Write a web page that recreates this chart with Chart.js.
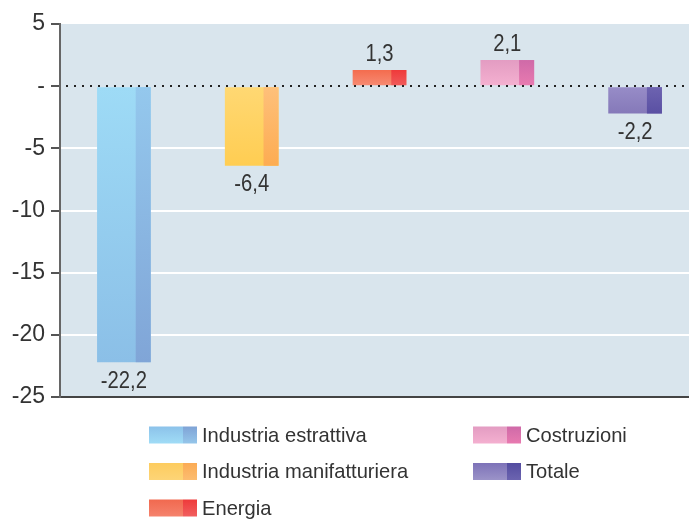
<!DOCTYPE html>
<html>
<head>
<meta charset="utf-8">
<script src="https://cdn.jsdelivr.net/npm/chart.js@4/dist/chart.umd.min.js"></script>
<style>
  html, body { margin: 0; padding: 0; background: #fff; overflow: hidden; }
  #wrap { width: 689px; height: 523px; overflow: hidden; }
</style>
</head>
<body>
<div id="wrap"><canvas id="chart" width="699" height="523"></canvas></div>
<script>
const categories = ["Industria estrattiva", "Industria manifatturiera", "Energia", "Costruzioni", "Totale"];
const values = [-22.2, -6.4, 1.3, 2.1, -2.2];
const yTicks = [5, 0, -5, -10, -15, -20, -25];

// colori: [alto, basso] per la parte chiara e per la striscia scura a destra
const MAIN_COLORS = [
  ["#9edbf6", "#8bbfe7"],
  ["#ffd873", "#ffcd52"],
  ["#f46c4e", "#f78a72"],
  ["#e39cc2", "#f4b0d0"],
  ["#978cc7", "#8579b9"]
];
const STRIP_COLORS = [
  ["#94c8ed", "#80a5d7"],
  ["#fec07a", "#fdac52"],
  ["#ef3a3a", "#f05a5a"],
  ["#cf6aa8", "#e87ab0"],
  ["#6d63b0", "#5a50a3"]
];
const LEGEND_MAIN = [
  ["#8cc2ea", "#a0dcf6"],
  ["#fdcc5e", "#fdd477"],
  ["#f1694f", "#f5836d"],
  ["#e39cc2", "#f4b0d0"],
  ["#7d72b8", "#9b93c8"]
];
const LEGEND_STRIP = [
  ["#7fa3d6", "#95c6ea"],
  ["#fbab55", "#fcbd70"],
  ["#ee3a3a", "#f15f5f"],
  ["#cf6aa8", "#e87ab0"],
  ["#534ca0", "#6c64b0"]
];

const FONT = "'Liberation Sans Narrow', 'Arial Narrow', 'Liberation Sans', Arial, sans-serif";
const TEXT = "#333333";

function fmt(v) {
  return String(v).replace(".", ",");
}

// testo condensato: carattere più alto e stretto in orizzontale
function narrowText(ctx, str, x, y, size, sx) {
  ctx.save();
  ctx.font = size + "px " + FONT;
  ctx.translate(x, y);
  ctx.scale(sx, 1);
  ctx.fillText(str, 0, 0);
  ctx.restore();
}

const datasets = categories.map((c, i) => ({
  label: c,
  data: categories.map((_, j) => (j === i ? values[i] : null)),
  backgroundColor: MAIN_COLORS[i][0],
  borderWidth: 0,
  barPercentage: 0.42,
  categoryPercentage: 1
}));

function vGrad(ctx, top, bottom, colors) {
  const g = ctx.createLinearGradient(0, top, 0, bottom);
  g.addColorStop(0, colors[0]);
  g.addColorStop(1, colors[1]);
  return g;
}

const barPainter = {
  id: "barPainter",
  beforeDraw(chart) {
    const { ctx, chartArea: a } = chart;
    ctx.save();
    ctx.fillStyle = "#d9e5ed";
    ctx.fillRect(a.left, a.top, a.right - a.left, a.bottom - a.top);
    ctx.restore();
  },
  beforeDatasetsDraw(chart) {
    const ctx = chart.ctx;
    chart.data.datasets.forEach((ds, i) => {
      chart.getDatasetMeta(i).data.forEach((el, j) => {
        if (ds.data[j] == null) return;
        const p = el.getProps(["y", "base"], true);
        el.options.backgroundColor = vGrad(ctx, Math.min(p.y, p.base), Math.max(p.y, p.base), MAIN_COLORS[i]);
      });
    });
  },
  afterDatasetsDraw(chart) {
    const ctx = chart.ctx;
    const y = chart.scales.y;
    const a = chart.chartArea;
    ctx.save();
    chart.data.datasets.forEach((ds, i) => {
      chart.getDatasetMeta(i).data.forEach((el, j) => {
        const v = ds.data[j];
        if (v == null) return;
        const p = el.getProps(["x", "y", "base", "width"], true);
        const top = Math.min(p.y, p.base), bottom = Math.max(p.y, p.base);
        const sw = p.width * 0.28;
        ctx.fillStyle = vGrad(ctx, top, bottom, STRIP_COLORS[i]);
        ctx.fillRect(p.x + p.width / 2 - sw, top, sw, bottom - top);
        // etichetta valore
        ctx.fillStyle = TEXT;
        ctx.textAlign = "center";
        ctx.textBaseline = "middle";
        const ly = v >= 0 ? p.y - 15 : p.y + 19;
        narrowText(ctx, fmt(v), p.x, ly, 23, 0.88);
      });
    });
    // linea dello zero punteggiata
    const y0 = Math.round(y.getPixelForValue(0));
    ctx.fillStyle = "#222";
    for (let x = a.left + 6; x < a.right; x += 8) {
      ctx.fillRect(x, y0 - 1, 2, 2);
    }
    ctx.restore();
  },
  afterDraw(chart) {
    const ctx = chart.ctx;
    const cols = [149, 473];
    const rows = [435, 471.5, 508];
    const pos = [[0, 0], [0, 1], [0, 2], [1, 0], [1, 1]];
    ctx.save();
    ctx.textAlign = "left";
    ctx.textBaseline = "middle";
    chart.data.datasets.forEach((ds, i) => {
      const x = cols[pos[i][0]], yc = rows[pos[i][1]];
      const top = yc - 8.5, bottom = yc + 8.5;
      ctx.fillStyle = vGrad(ctx, top, bottom, LEGEND_MAIN[i]);
      ctx.fillRect(x, top, 34, 17);
      ctx.fillStyle = vGrad(ctx, top, bottom, LEGEND_STRIP[i]);
      ctx.fillRect(x + 34, top, 14, 17);
      ctx.fillStyle = TEXT;
      narrowText(ctx, ds.label, x + 53, yc + 1, 21, 0.96);
    });
    ctx.restore();
  }
};

new Chart(document.getElementById("chart"), {
  type: "bar",
  data: { labels: categories, datasets },
  plugins: [barPainter],
  options: {
    responsive: false,
    animation: false,
    layout: { padding: { top: 24, bottom: 126, left: 0, right: 0 } },
    plugins: {
      legend: { display: false },
      tooltip: { enabled: false }
    },
    scales: {
      x: {
        stacked: true,
        ticks: { display: false },
        grid: { display: false, drawTicks: false },
        border: { display: true, color: "#444", width: 2 },
        afterFit: s => { s.height = 0; }
      },
      y: {
        min: -25,
        max: 5,
        afterBuildTicks: s => { s.ticks = yTicks.map(v => ({ value: v })); },
        afterFit: s => { s.width = 60; },
        ticks: {
          padding: 6,
          color: TEXT,
          font: { family: FONT, size: 23 },
          callback: v => (v === 0 ? "-" : String(v))
        },
        grid: {
          color: c => (c.tick && (c.tick.value === 0 || c.tick.value === 5 || c.tick.value === -25) ? "rgba(0,0,0,0)" : "#ffffff"),
          lineWidth: 2,
          tickColor: "#555",
          tickLength: 9,
          drawTicks: true
        },
        border: { display: true, color: "#666", width: 2 }
      }
    }
  }
});
</script>
</body>
</html>
